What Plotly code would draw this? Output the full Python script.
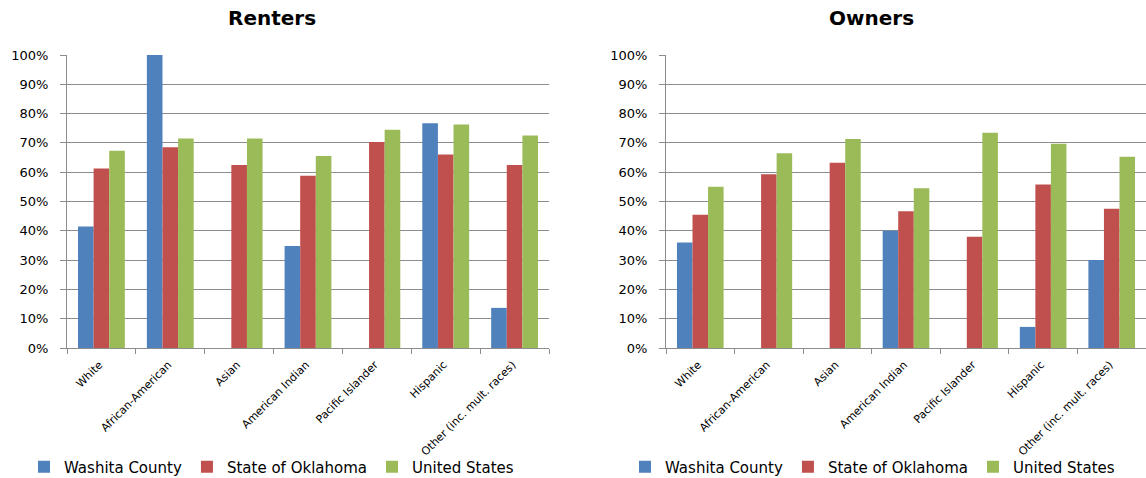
import plotly.graph_objects as go

categories = ["White", "African-American", "Asian", "American Indian",
              "Pacific Islander", "Hispanic", "Other (inc. mult. races)"]
series_names = ["Washita County", "State of Oklahoma", "United States"]
colors = ["#4F81BD", "#C0504D", "#9BBB59"]

renters_washita = [0.415, 1.00, 0.0, 0.348, 0.0, 0.767, 0.137]
renters_oklahoma = [0.613, 0.685, 0.625, 0.588, 0.703, 0.660, 0.625]
renters_us = [0.673, 0.715, 0.715, 0.655, 0.745, 0.763, 0.725]

owners_washita = [0.360, 0.0, 0.0, 0.400, 0.0, 0.072, 0.300]
owners_oklahoma = [0.455, 0.593, 0.632, 0.467, 0.380, 0.558, 0.475]
owners_us = [0.550, 0.665, 0.713, 0.545, 0.735, 0.697, 0.653]

renters = [renters_washita, renters_oklahoma, renters_us]
owners = [owners_washita, owners_oklahoma, owners_us]

FONT = "DejaVu Sans"
fig = go.Figure()

for i, name in enumerate(series_names):
    fig.add_trace(go.Bar(x=categories, y=renters[i], name=name,
                         marker=dict(color=colors[i], line=dict(width=0)),
                         xaxis="x", yaxis="y", legend="legend"))
for i, name in enumerate(series_names):
    fig.add_trace(go.Bar(x=categories, y=owners[i], name=name,
                         marker=dict(color=colors[i], line=dict(width=0)),
                         xaxis="x2", yaxis="y2", legend="legend2"))

grid = "#8c8c8c"
yax = dict(range=[0, 1], tickformat=".0%", dtick=0.1, showgrid=True,
           gridcolor=grid, gridwidth=1, showline=True, linecolor=grid,
           ticks="outside", ticklen=6, tickcolor=grid, automargin=False,
           ticklabelstandoff=9,
           tickfont=dict(family=FONT, size=13, color="#000"), zeroline=False,
           fixedrange=True)
xax = dict(showline=True, linecolor=grid, ticks="outside", ticklen=5,
           tickcolor=grid, tickson="boundaries", tickangle=-45, automargin=False,
           ticklabelstandoff=5, ticklabelshift=-2,
           tickfont=dict(family=FONT, size=11, color="#000"), showgrid=False)

H = 478
L0, L1 = 67 / 1146, 549 / 1146
R0, R1 = 666 / 1146, 1.0
Y0, Y1 = 1 - 348 / H, 1 - 55 / H

legfont = dict(family=FONT, size=15, color="#000")
fig.update_layout(
    width=1146, height=H,
    margin=dict(l=0, r=0, t=0, b=0, autoexpand=False),
    paper_bgcolor="white", plot_bgcolor="white",
    barmode="group", bargap=0.32, bargroupgap=0.0,
    xaxis=dict(domain=[L0, L1], anchor="y", **xax),
    yaxis=dict(domain=[Y0, Y1], anchor="x", **yax),
    xaxis2=dict(domain=[R0, R1], anchor="y2", **xax),
    yaxis2=dict(domain=[Y0, Y1], anchor="x2", **yax),
    legend=dict(orientation="h", x=24 / 1146, y=1 - 467 / H, xanchor="left",
                yanchor="middle", font=legfont, itemwidth=30,
                bgcolor="rgba(0,0,0,0)"),
    legend2=dict(orientation="h", x=625 / 1146, y=1 - 467 / H, xanchor="left",
                 yanchor="middle", font=legfont, itemwidth=30,
                 bgcolor="rgba(0,0,0,0)"),
    annotations=[
        dict(text="<b>Renters</b>", x=272 / 1146, y=1 - 18 / H, xref="paper",
             yref="paper", showarrow=False, xanchor="center", yanchor="middle",
             font=dict(family=FONT, size=20, color="#000")),
        dict(text="<b>Owners</b>", x=871 / 1146, y=1 - 18 / H, xref="paper",
             yref="paper", showarrow=False, xanchor="center", yanchor="middle",
             font=dict(family=FONT, size=20, color="#000")),
    ],
)

fig.write_html("out.html", config={"displayModeBar": False},
               post_script="document.body.style.margin='0';"
                           "document.body.style.overflow='hidden';")
